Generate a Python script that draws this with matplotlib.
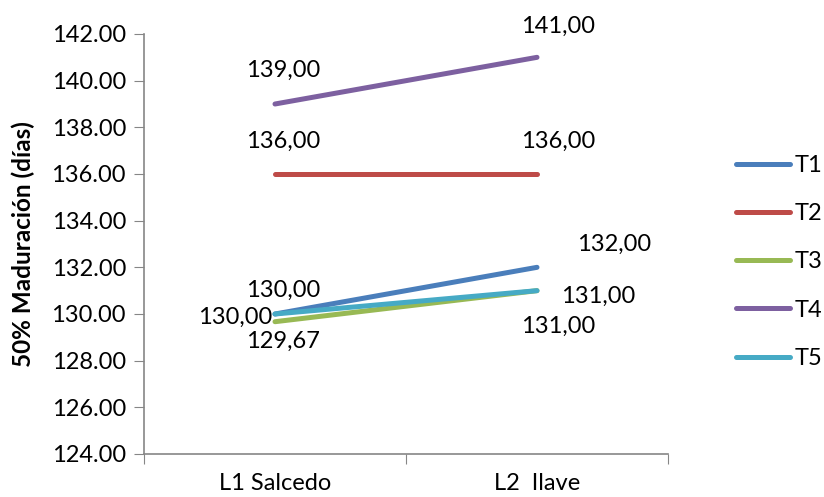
import matplotlib
matplotlib.use("Agg")
import matplotlib.pyplot as plt

plt.rcParams['font.family'] = ['Lato', 'DejaVu Sans']

# data
localidades = ['L1 Salcedo', 'L2  Ilave']
series = ['T1', 'T2', 'T3', 'T4', 'T5']
t1 = [130.00, 132.00]
t2 = [136.00, 136.00]
t3 = [129.67, 131.00]
t4 = [139.00, 141.00]
t5 = [130.00, 131.00]
valores = [t1, t2, t3, t4, t5]
colores = ['#4A7EBB', '#BE4B48', '#98B954', '#7D60A0', '#46AAC5']

# label offsets in pixels (dx, dy, ha) for each point, like the excel labels
offsets = {
    'T1': [(8, 24, 'center'), (77, 23, 'center')],
    'T2': [(8, 33, 'center'), (21, 33, 'center')],
    'T3': [(8, -20, 'center'), (21, -36, 'center')],
    'T4': [(8, 34, 'center'), (21, 31, 'center')],
    'T5': [(-3, -3, 'right'), (24, -6, 'left')],
}

fs = 17

fig = plt.figure(figsize=(8.24, 4.97), dpi=100)
ax = fig.add_axes([144/824, 1 - 454/497, (668 - 144)/824, 420/497])

x = [i + 0.5 for i in range(len(localidades))]
for nombre, vals, c in zip(series, valores, colores):
    ax.plot(x, vals, color=c, lw=3.6, solid_capstyle='round', label=nombre)

for nombre, vals in zip(series, valores):
    for xi, v, (dx, dy, ha) in zip(x, vals, offsets[nombre]):
        ax.annotate(f"{v:.2f}".replace('.', ','), (xi, v),
                    xytext=(dx * 0.72, dy * 0.72), textcoords='offset points',
                    ha=ha, va='center', fontsize=fs, color='black')

ax.set_xlim(0, len(localidades))
ax.set_ylim(124, 142)
ax.set_yticks(range(124, 143, 2))
ax.set_yticklabels([f"{v:.2f}" for v in range(124, 143, 2)])
ax.set_xticks(range(len(localidades) + 1))
ax.set_xticklabels([])
ax.set_xticks(x, minor=True)
ax.set_xticklabels(localidades, minor=True)
ax.tick_params(axis='x', which='minor', length=0, pad=14, labelsize=fs)
ax.tick_params(axis='x', which='major', length=7, color='#868686', direction='out')
ax.tick_params(axis='y', length=7, color='#868686', direction='out', labelsize=fs, pad=6)

for s in ['top', 'right']:
    ax.spines[s].set_visible(False)
for s in ['left', 'bottom']:
    ax.spines[s].set_color('#868686')
    ax.spines[s].set_linewidth(1.2)

ax.set_ylabel('50% Maduración (días)', fontsize=17.5, fontweight='bold')
ax.yaxis.set_label_coords(-(144 - 35) / 524, 0.5)

leg = fig.legend(loc='center left', bbox_to_anchor=(736/824, 1 - 262/497),
                 frameon=False, fontsize=fs, handlelength=2.3, handletextpad=0.2,
                 labelspacing=1.15, borderpad=0, borderaxespad=0)

fig.savefig('out.png', dpi=100)
